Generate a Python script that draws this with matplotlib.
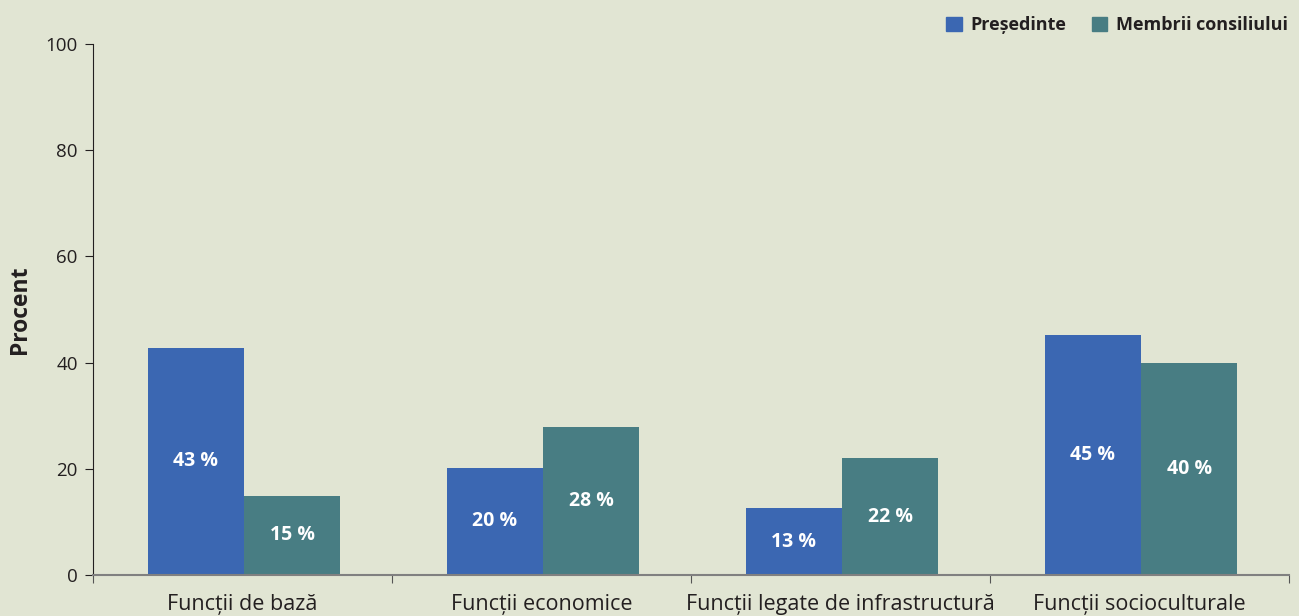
import numpy as np
import matplotlib
matplotlib.use("Agg")
import matplotlib.pyplot as plt
from matplotlib.patches import Patch

# data
categories = ["Funcții de bază", "Funcții economice",
              "Funcții legate de infrastructură", "Funcții socioculturale"]
presedinte = [42.8, 20.2, 12.6, 45.2]
membri = [14.9, 27.9, 22.0, 39.9]
series_names = ["Președinte", "Membrii consiliului"]

BG = "#E1E5D3"
BLUE = "#3B67B2"
TEAL = "#487D83"
TXT = "#231F20"

plt.rcParams['font.family'] = ['Open Sans', 'DejaVu Sans']

fig = plt.figure(figsize=(12.99, 6.16), dpi=100, facecolor=BG)
ax = fig.add_axes([93/1299, 41/616, 1196/1299, 531/616], facecolor=BG)

x = np.arange(len(categories))
w = 0.322
b1 = ax.bar(x - w/2 + 0.005, presedinte, w, color=BLUE)
b2 = ax.bar(x + w/2 + 0.005, membri, w, color=TEAL)

for bars, vals in ((b1, presedinte), (b2, membri)):
    for rect, v in zip(bars, vals):
        ax.text(rect.get_x() + rect.get_width()/2, v/2, f"{round(v)} %",
                ha="center", va="center", color="white", fontsize=14,
                fontweight="bold")

ax.set_xlim(-0.5, len(categories) - 0.5)
ax.set_ylim(0, 100)
ax.set_yticks([0, 20, 40, 60, 80, 100])
ax.tick_params(axis="y", labelsize=13.5, colors=TXT, length=6, width=0.8, pad=5)

# category boundaries as ticks, names in the middle
ax.set_xticks(np.arange(len(categories) + 1) - 0.5)
ax.set_xticklabels([])
ax.set_xticks(x, minor=True)
ax.set_xticklabels(categories, minor=True)
ax.tick_params(axis="x", which="major", length=6, width=0.8, colors="#555555")
ax.tick_params(axis="x", which="minor", length=0, pad=14, labelsize=15.5, labelcolor=TXT)

for s in ("top", "right"):
    ax.spines[s].set_visible(False)
ax.spines["left"].set_color("#231F20")
ax.spines["left"].set_linewidth(0.8)
ax.spines["bottom"].set_color("#808080")
ax.spines["bottom"].set_linewidth(1.5)

ax.set_ylabel("Procent", fontsize=16.5, fontweight="bold", color=TXT, labelpad=10)

handles = [Patch(color=BLUE), Patch(color=TEAL)]
fig.legend(handles, series_names, loc="upper right", bbox_to_anchor=(1.004, 1.0),
           ncol=2, frameon=False, handlelength=0.85, handleheight=0.85,
           handletextpad=0.5, columnspacing=1.4,
           prop={"size": 13, "weight": "bold"}, labelcolor=TXT)

fig.savefig("out.png", dpi=100, facecolor=BG)
